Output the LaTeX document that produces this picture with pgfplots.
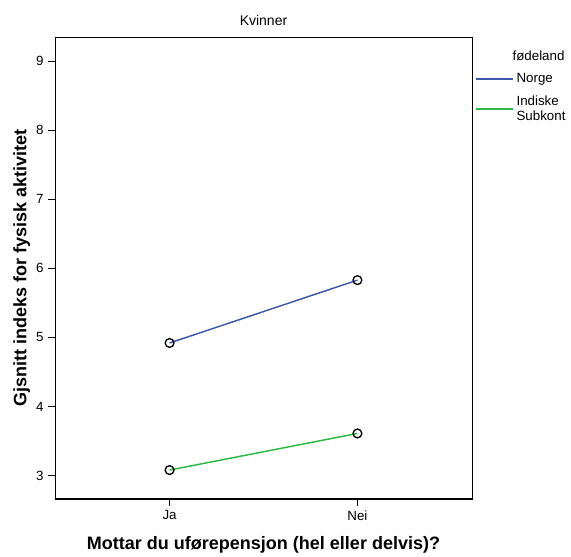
\documentclass[border=0pt]{standalone}
\usepackage{pgfplots}
\pgfplotsset{compat=1.18}
\usepackage{fontspec}
\setmainfont{Liberation Sans}
\definecolor{spssblue}{HTML}{3E58AC}
\definecolor{spssgreen}{HTML}{2EB848}
\begin{document}
\begin{tikzpicture}
\path[use as bounding box] (-41.25pt,-42.75pt) rectangle (387pt,374.3pt);
\begin{axis}[
  name=ax,
  scale only axis,
  width=312.75pt, height=346pt,
  anchor=south west, at={(0,0)},
  xmin=-0.61, xmax=1.61,
  ymin=2.66, ymax=9.34,
  xtick={0,1}, xticklabels={Ja,Nei},
  ytick={3,4,5,6,7,8,9},
  xtick pos=bottom, ytick pos=left,
  tick align=outside,
  major tick length=5pt,
  tick style={black, line width=0.9pt},
  axis line style={line width=0.75pt},
  /pgf/number format/assume math mode=true,
  ticklabel style={font=\fontsize{10}{11}\selectfont},
  xlabel={Mottar du uførepensjon (hel eller delvis)?},
  ylabel={Gjsnitt indeks for fysisk aktivitet},
  label style={font=\bfseries\fontsize{13.5}{15}\selectfont},
  xlabel style={at={(axis description cs:0.5,-0.0997)}, anchor=center},
  ylabel style={at={(axis description cs:-0.08,0.5)}, anchor=center, rotate=0},
  legend style={at={(axis description cs:0.998,0.983)}, anchor=north west, draw=none, fill=none,
    font=\fontsize{10}{11.5}\selectfont, cells={anchor=west, align=left}, row sep=4pt},
  legend image code/.code={\draw[#1] (0pt,0pt) -- (27.75pt,0pt);},
]
\addlegendimage{empty legend}
\addlegendentry{\hspace*{-3pt}fødeland}
\addplot[spssblue, line width=1.1pt, mark=o, mark size=3.3pt, mark options={black, line width=1pt, fill=white}]
  coordinates {(0,4.92) (1,5.83)};
\addlegendentry{Norge}
\addplot[spssgreen, line width=1.1pt, mark=o, mark size=3.3pt, mark options={black, line width=1pt, fill=white}]
  coordinates {(0,3.08) (1,3.61)};
\addlegendentry{Indiske\\Subkont}
\draw[line width=1.5pt] (rel axis cs:0,1) -- (rel axis cs:0,0) -- (rel axis cs:1,0);
\end{axis}
\node[font=\fontsize{10.5}{12}\selectfont, anchor=center, yshift=12.8pt] at (ax.north) {Kvinner};
\end{tikzpicture}
\end{document}
